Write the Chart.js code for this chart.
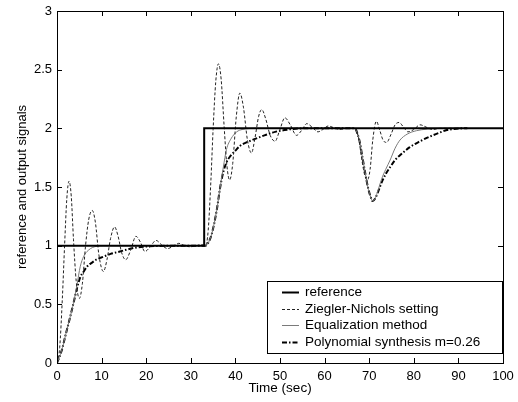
<!DOCTYPE html>
<html>
<head>
<meta charset="utf-8">
<script src="https://cdn.jsdelivr.net/npm/chart.js@4.4.1/dist/chart.umd.min.js"></script>
<style>
  html, body { margin: 0; padding: 0; background: #fff; }
  #wrap { width: 518px; height: 402px; }
</style>
</head>
<body>
<div id="wrap"><canvas id="plot" width="518" height="402"></canvas></div>
<script>
// reference signal (step at 33 s)
const refTime = [0, 33, 33, 100];
const refVal = [1, 1, 2, 2];

// Ziegler-Nichols setting
const znTime = [0, 0.6, 1.2, 1.7, 2.2, 2.7, 3.2, 3.7, 4.3, 5.0, 5.7, 6.4, 7.1, 7.9, 8.6, 9.4, 10.4, 11.2, 12.0, 12.9,
  13.7, 14.5, 15.4, 16.5, 17.7, 18.7, 19.7, 20.9, 22.2, 23.5, 24.8, 26.0, 27.3, 28.6, 29.9, 31.2, 32.4, 33.3,
  33.9, 34.5, 35.0, 35.6, 36.2, 36.8, 37.5, 38.1, 38.7, 39.4, 40.2, 41.0, 41.8, 42.7, 43.6, 44.4, 45.2, 45.9,
  46.8, 47.8, 48.9, 49.9, 51.1, 52.3, 53.7, 54.8, 56.0, 57.2, 58.5, 59.6, 60.8, 62.1, 63.5, 65.0, 66.8,
  67.6, 68.4, 69.0, 69.6, 70.2, 70.8, 71.6, 72.4, 73.1, 73.9, 74.9, 75.8, 76.7, 77.7, 78.7, 80.0, 81.4, 82.8,
  84.2, 86.0, 92.0];
const znVal = [0, 0.13, 0.55, 1.0, 1.4, 1.55, 1.42, 1.05, 0.7, 0.55, 0.68, 1.0, 1.22, 1.30, 1.2, 0.92, 0.78, 0.88, 1.06, 1.16,
  1.08, 0.94, 0.88, 0.96, 1.08, 1.03, 0.95, 0.99, 1.045, 1.005, 0.975, 0.995, 1.02, 1.0, 0.99, 1.0, 1.008, 1.0,
  1.13, 1.55, 1.99, 2.4, 2.55, 2.42, 2.0, 1.68, 1.56, 1.7, 2.1, 2.30, 2.18, 1.9, 1.79, 1.92, 2.1, 2.16,
  2.08, 1.94, 1.89, 1.98, 2.09, 2.03, 1.94, 1.98, 2.04, 2.01, 1.97, 1.99, 2.02, 2.005, 1.99, 2.0, 2.0,
  1.92, 1.72, 1.6, 1.56, 1.65, 1.9, 2.06, 1.98, 1.9, 1.88, 1.95, 2.03, 2.05, 2.01, 1.97, 1.99, 2.03, 2.01,
  1.99, 2.0, 2.0];

// Equalization method
const eqTime = [0, 1, 2, 3, 3.7, 4.5, 5.2, 6.0, 7.0, 8.0, 9.0, 10.5, 12, 33.3, 34.0, 34.7, 35.8, 36.6, 37.3, 38.0,
  39.0, 40.3, 41.5, 43, 45, 66.8, 67.4, 67.9, 68.5, 69.1, 69.7, 70.2, 70.8, 71.3, 71.8, 72.3, 72.8, 73.7, 74.7,
  75.8, 76.9, 78.5, 80.6, 83, 86, 92];
const eqVal = [0, 0.1, 0.25, 0.4, 0.51, 0.67, 0.82, 0.91, 0.96, 0.985, 0.995, 1.0, 1.0, 1.0, 1.03, 1.1, 1.3, 1.5, 1.67, 1.82,
  1.91, 1.97, 1.99, 1.998, 2.0, 2.0, 1.95, 1.88, 1.75, 1.62, 1.5, 1.43, 1.38, 1.40, 1.45, 1.51, 1.57, 1.65, 1.73,
  1.83, 1.90, 1.95, 1.98, 1.993, 2.0, 2.0];

// Polynomial synthesis m=0.26
const polyTime = [0, 1, 2, 3, 3.7, 4.5, 5.2, 6.0, 6.7, 8.0, 9.0, 10.4, 12, 14.1, 16, 17.9, 20, 23, 26, 33.3,
  34.0, 34.7, 35.8, 36.6, 37.3, 38.0, 38.8, 40.0, 41.0, 42.5, 44.4, 46.5, 48.9, 51, 53, 56, 66.8,
  67.4, 67.9, 68.5, 69.1, 69.7, 70.2, 70.8, 71.3, 71.8, 72.3, 72.8, 73.7, 74.7, 75.8, 76.9, 79.1, 81.4, 83.6,
  85.9, 87.4, 89, 91, 92];
const polyVal = [0, 0.1, 0.25, 0.4, 0.51, 0.64, 0.73, 0.78, 0.82, 0.86, 0.885, 0.906, 0.93, 0.95, 0.97, 0.985, 0.993, 0.998, 1.0, 1.0,
  1.03, 1.1, 1.3, 1.5, 1.63, 1.71, 1.76, 1.81, 1.85, 1.88, 1.91, 1.94, 1.97, 1.985, 1.995, 2.0, 2.0,
  1.95, 1.88, 1.75, 1.62, 1.5, 1.43, 1.38, 1.40, 1.44, 1.49, 1.54, 1.61, 1.67, 1.73, 1.77, 1.84, 1.89, 1.93,
  1.965, 1.985, 1.995, 2.0, 2.0];

const seriesNames = ['reference', 'Ziegler-Nichols setting', 'Equalization method', 'Polynomial synthesis m=0.26'];
const xRange = [0, 100];
const yRange = [0, 3];

const FONT = "'Liberation Sans', Arial, Helvetica, sans-serif";

function toPoints(ts, vs) {
  return ts.map((t, i) => ({ x: t, y: vs[i] }));
}

// inward tick marks on all four sides + box
const boxTicks = {
  id: 'boxTicks',
  afterDatasetsDraw(chart) {
    const { ctx, chartArea: a, scales: { x, y } } = chart;
    ctx.save();
    ctx.strokeStyle = '#000';
    ctx.lineWidth = 1;
    ctx.beginPath();
    x.ticks.forEach(t => {
      const px = Math.round(x.getPixelForValue(t.value)) + 0.5;
      ctx.moveTo(px, a.bottom); ctx.lineTo(px, a.bottom - 5);
      ctx.moveTo(px, a.top); ctx.lineTo(px, a.top + 5);
    });
    y.ticks.forEach(t => {
      const py = Math.round(y.getPixelForValue(t.value)) + 0.5;
      ctx.moveTo(a.left, py); ctx.lineTo(a.left + 5, py);
      ctx.moveTo(a.right, py); ctx.lineTo(a.right - 5, py);
    });
    ctx.stroke();
    ctx.strokeRect(Math.round(a.left) + 0.5, Math.round(a.top) + 0.5,
      Math.round(a.right - a.left), Math.round(a.bottom - a.top));
    ctx.restore();
  }
};

// MATLAB-style legend box at lower right
const boxLegend = {
  id: 'boxLegend',
  afterDraw(chart) {
    const { ctx, chartArea: a } = chart;
    const w = 235, rowH = 16.7, h = 72;
    const left = a.right - w - 1, top = a.bottom - h - 10;
    ctx.save();
    ctx.fillStyle = '#fff';
    ctx.fillRect(left, top, w, h);
    ctx.strokeStyle = '#000';
    ctx.lineWidth = 1;
    ctx.strokeRect(Math.round(left) + 0.5, Math.round(top) + 0.5, w, h);
    ctx.font = '13.5px ' + FONT;
    ctx.textBaseline = 'middle';
    chart.data.datasets.forEach((ds, i) => {
      const cy = Math.round(top + 11 + i * rowH) + 0.5;
      ctx.beginPath();
      ctx.strokeStyle = ds.borderColor;
      ctx.lineWidth = ds.borderWidth;
      ctx.setLineDash(ds.borderDash || []);
      ctx.moveTo(left + 15, cy);
      ctx.lineTo(left + 32, cy);
      ctx.stroke();
      ctx.setLineDash([]);
      ctx.fillStyle = '#000';
      ctx.fillText(ds.label, left + 38, cy);
    });
    ctx.restore();
  }
};

new Chart(document.getElementById('plot').getContext('2d'), {
  type: 'line',
  data: {
    datasets: [
      {
        label: seriesNames[0],
        data: toPoints(refTime, refVal),
        borderColor: '#000',
        borderWidth: 2,
        tension: 0
      },
      {
        label: seriesNames[1],
        data: toPoints(znTime, znVal),
        borderColor: '#222',
        borderWidth: 1,
        borderDash: [3, 2],
        cubicInterpolationMode: 'monotone'
      },
      {
        label: seriesNames[2],
        data: toPoints(eqTime, eqVal),
        borderColor: '#7a7a7a',
        borderWidth: 1,
        cubicInterpolationMode: 'monotone'
      },
      {
        label: seriesNames[3],
        data: toPoints(polyTime, polyVal),
        borderColor: '#000',
        borderWidth: 2,
        borderDash: [5, 2, 1.5, 2],
        cubicInterpolationMode: 'monotone'
      }
    ]
  },
  options: {
    responsive: false,
    animation: false,
    layout: { padding: { left: 0, top: 11, right: 15, bottom: 0 } },
    elements: { point: { radius: 0 } },
    plugins: {
      legend: { display: false },
      tooltip: { enabled: false }
    },
    scales: {
      x: {
        type: 'linear',
        min: xRange[0],
        max: xRange[1],
        grid: { display: false, drawTicks: false },
        border: { display: false },
        ticks: { stepSize: 10, color: '#000', padding: 6, maxRotation: 0, font: { family: FONT, size: 13 } },
        title: { display: true, text: 'Time (sec)', color: '#000', padding: { bottom: 6 }, font: { family: FONT, size: 13.5 } },
        afterFit(s) { s.height = 39; s.paddingLeft = 0; s.paddingRight = 0; }
      },
      y: {
        min: yRange[0],
        max: yRange[1],
        grid: { display: false, drawTicks: false },
        border: { display: false },
        ticks: {
          stepSize: 0.5, color: '#000', padding: 5, font: { family: FONT, size: 13 },
          callback: v => String(Math.round(v * 10) / 10)
        },
        title: { display: true, text: 'reference and output signals', color: '#000', padding: { top: 15 }, font: { family: FONT, size: 13 } },
        afterFit(s) { s.width = 57; s.paddingTop = 0; s.paddingBottom = 0; }
      }
    }
  },
  plugins: [boxTicks, boxLegend]
});
</script>
</body>
</html>
